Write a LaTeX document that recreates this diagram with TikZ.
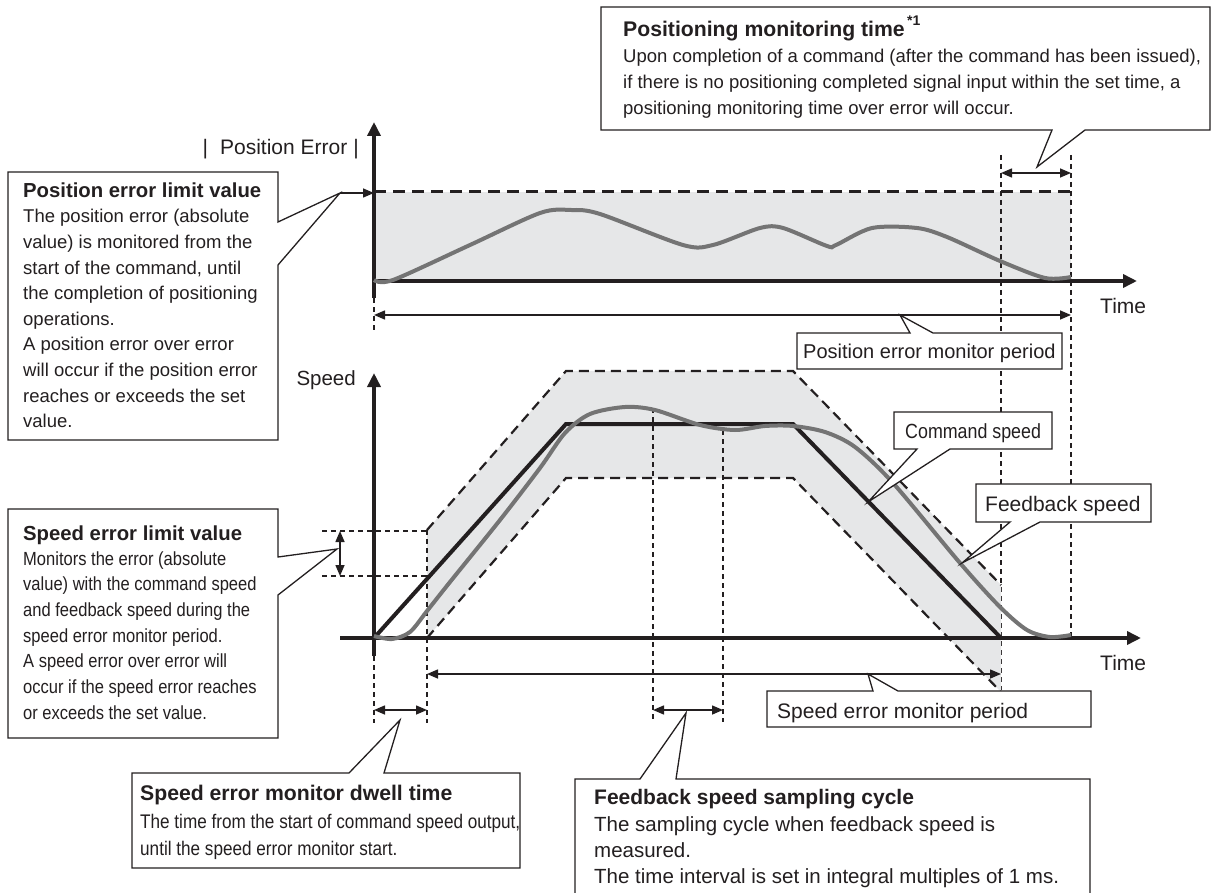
\documentclass[tikz,border=0pt]{standalone}
\usepackage{fontspec}
\setmainfont{Liberation Sans}
\newfontfamily\narrowfont[FakeStretch=0.87]{Liberation Sans}
\usetikzlibrary{arrows.meta}
\definecolor{band}{HTML}{E6E7E8}
\definecolor{fbgray}{HTML}{747474}
\definecolor{ink}{HTML}{231F20}
\newcommand\ttlfont{\fontsize{20.3}{24}\selectfont\bfseries}
\newcommand\bodyfont{\fontsize{18.5}{25.6}\selectfont}
\newcommand\narrowbody{\narrowfont\fontsize{19}{25.7}\selectfont}
\begin{document}
\begin{tikzpicture}[x=1pt,y=-1pt,
  axisln/.style={line width=4pt, draw=ink, -{Triangle[length=14pt,width=13pt]}},
  limitdash/.style={line width=3pt, draw=ink, dash pattern=on 12pt off 7pt},
  banddash/.style={line width=2.2pt, draw=ink, dash pattern=on 10pt off 6pt},
  guide/.style={line width=1.4pt, draw=ink, dash pattern=on 5pt off 4pt},
  dimboth/.style={line width=1.5pt, draw=ink, {Triangle[length=11pt,width=9pt]}-{Triangle[length=11pt,width=9pt]}},
  dimone/.style={line width=1.5pt, draw=ink, -{Triangle[length=11pt,width=9pt]}},
  callout/.style={line width=1.3pt, draw=ink, fill=white},
  fbcurve/.style={line width=4pt, draw=fbgray, smooth, tension=0.5},
  cmdline/.style={line width=4pt, draw=ink},
  lbl/.style={anchor=base west, inner sep=0pt, text=ink},
]
\useasboundingbox (0,0) rectangle (1215,893);

% ---------- top chart ----------
\fill[band] (374,192) rectangle (1071,281);
\draw[limitdash] (374,192) -- (1071,192);
\draw[guide] (1001,155) -- (1001,690);
\draw[guide] (1071,155) -- (1071,636);
\draw[guide] (374,298) -- (374,333);
\coordinate (pmtL) at (1001,173);
\coordinate (pmtR) at (1071,173);
\draw[dimboth] (pmtL) -- (pmtR);
\coordinate (pemL) at (374,315);
\coordinate (pemR) at (1071,315);
\draw[dimboth] (pemL) -- (pemR);
\coordinate (yA0) at (374,298);
\coordinate (yA1) at (374,122);
\coordinate (xA0) at (374,281);
\coordinate (xA1) at (1137,281);
\draw[axisln] (yA0) -- (yA1);
\draw[axisln] (xA0) -- (xA1);
\draw[fbcurve] plot coordinates {(374,280) (393,280) (470,245) (540,213) (571,210) (600,214) (683,245) (713,245) (760,228) (783,228) (827,246) (836,245) (872,228) (917,228) (947,237) (1000,261) (1045,278) (1071,277)};
\coordinate (pelTip) at (340,193);
\coordinate (pelEnd) at (374,193);
\draw[dimone] (pelTip) -- (pelEnd);

% ---------- bottom chart ----------
\fill[band] (427,530) -- (566,371) -- (793,371) -- (1001,585) -- (1001,692) -- (793,478) -- (566,478) -- (427,638) -- cycle;
\draw[banddash] (427,530) -- (566,371) -- (793,371) -- (1001,585);
\draw[banddash] (427,638) -- (566,478) -- (793,478) -- (1001,692);
\draw[guide] (427,530) -- (427,723);
\draw[guide] (374,656) -- (374,723);
\draw[guide] (653,408) -- (653,722);
\draw[guide] (723,430) -- (723,722);
\draw[guide] (322,531) -- (427,531);
\draw[guide] (322,576) -- (427,576);
\coordinate (selT) at (340,531);
\coordinate (selB) at (340,576);
\draw[dimboth] (selT) -- (selB);
\coordinate (dwL) at (374,710);
\coordinate (dwR) at (427,710);
\draw[dimboth] (dwL) -- (dwR);
\coordinate (smL) at (653,710);
\coordinate (smR) at (723,710);
\draw[dimboth] (smL) -- (smR);
\coordinate (semL) at (427,674);
\coordinate (semR) at (1001,674);
\draw[dimboth] (semL) -- (semR);
\coordinate (yB0) at (374,656);
\coordinate (yB1) at (374,373);
\coordinate (xB0) at (340,638);
\coordinate (xB1) at (1141,638);
\draw[axisln] (yB0) -- (yB1);
\draw[axisln] (xB0) -- (xB1);
\draw[cmdline] (374,638) -- (566,424) -- (793,424) -- (1001,638);
\draw[fbcurve] plot coordinates {(374,636) (392,639) (410,632) (427,611) (450,582) (500,520) (540,468) (565,433) (590,414) (625,407) (655,410) (700,425) (735,430) (765,426) (793,426) (825,432) (855,447) (893,483) (960,563) (1000,607) (1027,630) (1050,637) (1071,635)};

% ---------- callout outlines ----------
\draw[callout] (601,7) -- (1210,7) -- (1210,130) -- (1085,130) -- (1037,167) -- (1052,130) -- (601,130) -- cycle;
\draw[callout] (8,172) -- (278,172) -- (278,222) -- (pelTip) -- (278,265) -- (278,440) -- (8,440) -- cycle;
\draw[callout] (797,333) -- (910,333) -- (900,315) -- (933,333) -- (1062,333) -- (1062,369) -- (797,369) -- cycle;
\draw[callout] (894,412) -- (1052,412) -- (1052,449) -- (950,449) -- (868,502) -- (917,449) -- (894,449) -- cycle;
\draw[callout] (976,484) -- (1151,484) -- (1151,522) -- (1040,522) -- (962,563) -- (1010,522) -- (976,522) -- cycle;
\draw[callout] (8,509) -- (278,509) -- (278,557) -- (337,549) -- (278,595) -- (278,738) -- (8,738) -- cycle;
\draw[callout] (767,691) -- (873,691) -- (868,674) -- (898,691) -- (1091,691) -- (1091,727) -- (767,727) -- cycle;
\draw[callout] (132,773) -- (349,773) -- (400,720) -- (384,773) -- (520,773) -- (520,868) -- (132,868) -- cycle;
\draw[callout] (575,898) -- (575,779) -- (640,779) -- (686,713) -- (676,779) -- (1090,779) -- (1090,898);

% ---------- texts ----------
\node[lbl, font=\fontsize{21.2}{24}\selectfont\bfseries] (pmtT) at (623,37) {Positioning monitoring time};
\node[lbl, font=\fontsize{14}{16}\selectfont\bfseries] (pmtS) at (907,26) {*1};
\node[lbl, font=\bodyfont] (pmtB) at (623,63) {\parbox[t]{600pt}{\raggedright
Upon completion of a command (after the command has been issued),\\
if there is no positioning completed signal input within the set time, a\\
positioning monitoring time over error will occur.}};

\node[lbl, font=\fontsize{21}{24}\selectfont] (peAx) at (202.5,155) {|\hspace{12pt}Position Error\hspace{6pt}|};

\node[lbl, font=\ttlfont] (pelT) at (23,198) {Position error limit value};
\node[lbl, font=\bodyfont] (pelB) at (23,223) {\parbox[t]{260pt}{\raggedright
The position error (absolute\\
value) is monitored from the\\
start of the command, until\\
the completion of positioning\\
operations.\\
A position error over error\\
will occur if the position error\\
reaches or exceeds the set\\
value.}};

\node[lbl, font=\fontsize{21}{24}\selectfont] (tA) at (1100,313) {Time};
\node[lbl, font=\fontsize{20}{24}\selectfont] (pemT) at (803,358) {Position error monitor period};
\node[anchor=base east, inner sep=0pt, text=ink, font=\fontsize{20.5}{24}\selectfont] (spAx) at (356,385) {Speed};
\node[lbl, font=\narrowfont\fontsize{20.5}{24}\selectfont] (cmdT) at (905,438) {Command speed};
\node[lbl, font=\fontsize{21}{24}\selectfont] (fbT) at (985,511) {Feedback speed};

\node[lbl, font=\ttlfont] (selTt) at (23,540) {Speed error limit value};
\node[lbl, font=\narrowbody] (selBd) at (23,565) {\parbox[t]{260pt}{\raggedright
Monitors the error (absolute\\
value) with the command speed\\
and feedback speed during the\\
speed error monitor period.\\
A speed error over error will\\
occur if the speed error reaches\\
or exceeds the set value.}};

\node[lbl, font=\fontsize{21}{24}\selectfont] (tB) at (1100,670) {Time};
\node[lbl, font=\fontsize{21}{24}\selectfont] (semT) at (777,718) {Speed error monitor period};

\node[lbl, font=\fontsize{21.2}{24}\selectfont\bfseries] (dwT) at (140,800) {Speed error monitor dwell time};
\node[lbl, font=\narrowfont\fontsize{19.7}{27}\selectfont] (dwB) at (140,828) {\parbox[t]{470pt}{\raggedright
The time from the start of command speed output,\\
until the speed error monitor start.}};

\node[lbl, font=\fontsize{21}{24}\selectfont\bfseries] (smT) at (594,804) {Feedback speed sampling cycle};
\node[lbl, font=\fontsize{20.5}{26}\selectfont] (smB) at (594,831) {\parbox[t]{490pt}{\raggedright
The sampling cycle when feedback speed is\\
measured.\\
The time interval is set in integral multiples of 1 ms.}};
\end{tikzpicture}
\end{document}
